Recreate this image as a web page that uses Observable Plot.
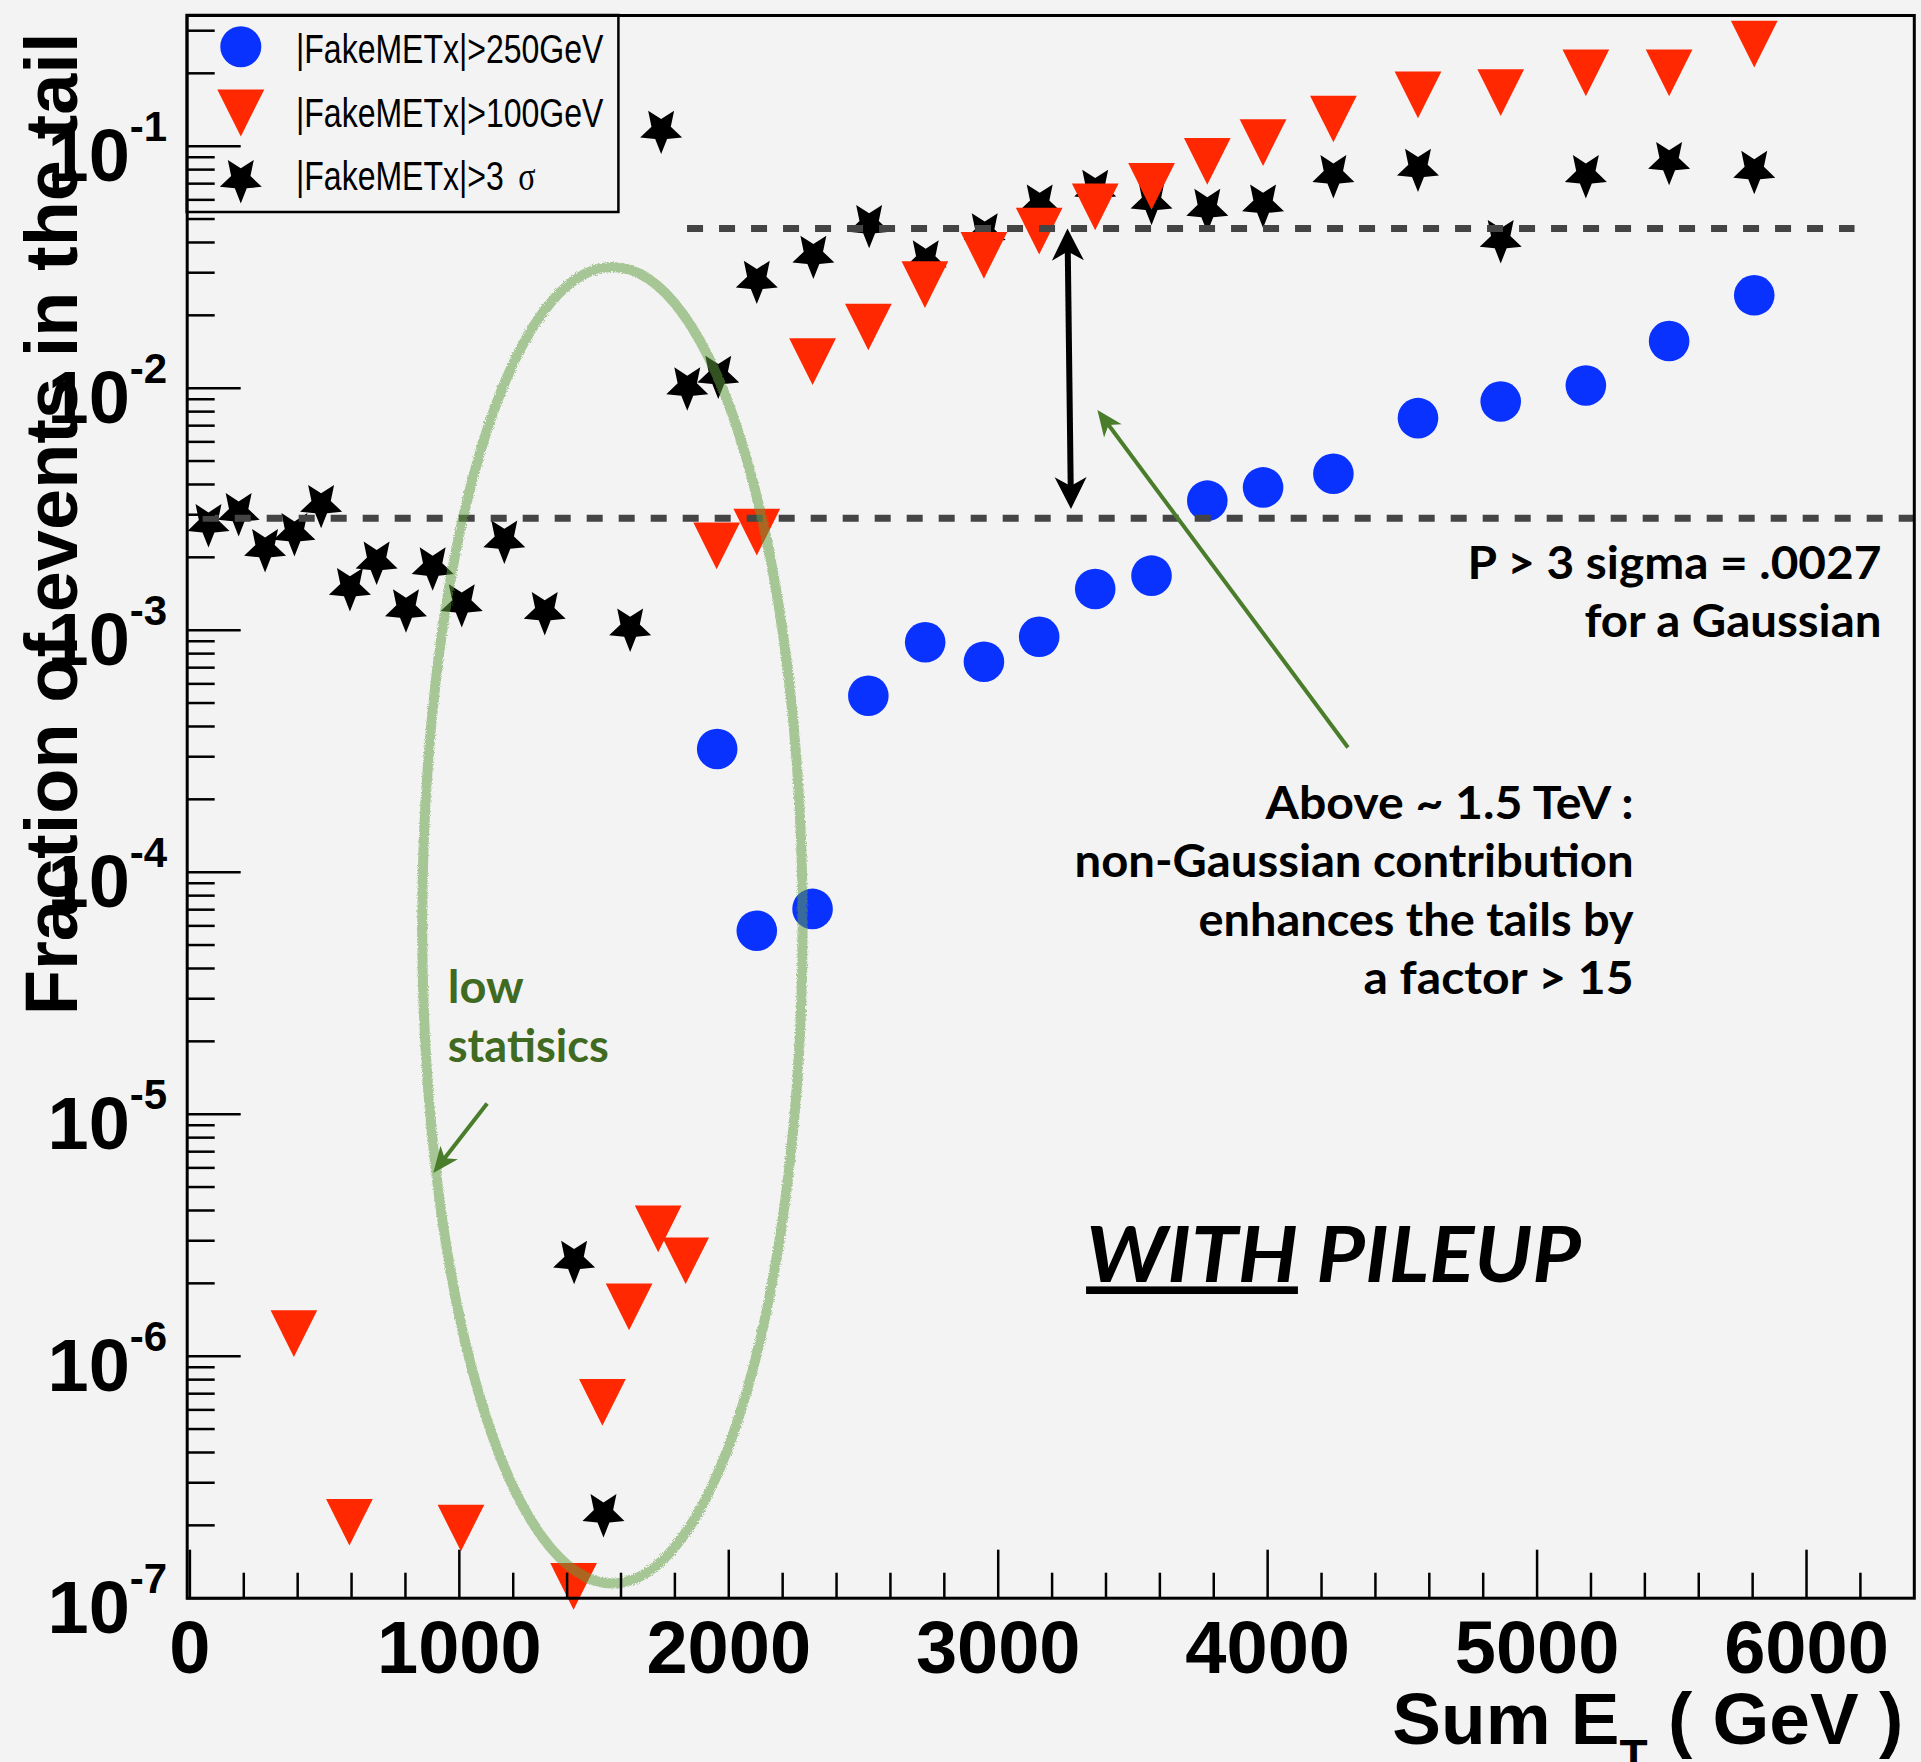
<!DOCTYPE html>
<html>
<head>
<meta charset="utf-8">
<script src="https://cdn.jsdelivr.net/npm/d3@7"></script>
<script src="https://cdn.jsdelivr.net/npm/@observablehq/plot@0.6"></script>
<style>
  html, body { margin: 0; padding: 0; background: #f3f3f3; }
  #chart svg { display: block; }
</style>
</head>
<body>
<div id="chart"></div>
<script>
// ---------------- data ----------------
// |FakeMETx| > 3 sigma  (black stars)
const sumET3sigma = [69, 181, 279, 388, 487, 594, 693, 802, 901, 1009, 1167, 1317, 1426, 1535, 1634,
  1749, 1846, 1961, 2104, 2314, 2521, 2731, 2950, 3154, 3360, 3569, 3776, 3983, 4244, 4558, 4865, 5181, 5490, 5806];
const frac3sigma = [0.00270, 0.00300, 0.00213, 0.00248, 0.00324, 0.00147, 0.00189, 0.00120, 0.00179, 0.00126,
  0.00231, 0.00117, 2.44e-6, 2.19e-7, 0.00100, 0.1140, 0.00992, 0.01108, 0.02737, 0.0347, 0.0465, 0.0332, 0.043,
  0.0565, 0.065, 0.058, 0.0542, 0.0565, 0.0747, 0.0794, 0.0403, 0.0747, 0.0847, 0.0778];
// |FakeMETx| > 100 GeV  (red triangles)
const sumET100 = [386, 592, 1006, 1424, 1531, 1630, 1738, 1840, 1955, 2104, 2311, 2518, 2728, 2947, 3152,
  3360, 3569, 3776, 3983, 4244, 4558, 4865, 5181, 5490, 5806];
const frac100 = [1.24e-6, 2.06e-7, 1.95e-7, 1.12e-7, 6.44e-7, 1.60e-6, 3.36e-6, 2.48e-6, 0.00223, 0.00254,
  0.01287, 0.0179, 0.0268, 0.0354, 0.0446, 0.0561, 0.0682, 0.0865, 0.1035, 0.1295, 0.163, 0.1665, 0.201, 0.201, 0.264];
// |FakeMETx| > 250 GeV  (blue circles)
const sumET250 = [1957, 2104, 2311, 2518, 2729, 2947, 3152, 3360, 3569, 3776, 3983, 4244, 4558, 4865, 5181, 5490, 5806];
const frac250 = [0.000323, 5.73e-5, 7.05e-5, 0.000536, 0.000891, 0.000741, 0.000939, 0.00148, 0.00168, 0.00343,
  0.00389, 0.00443, 0.00752, 0.00881, 0.01026, 0.01566, 0.0242];

const legendLabels = ["|FakeMETx|>250GeV", "|FakeMETx|>100GeV", "|FakeMETx|>3"];
const xMajorTicks = [0, 1000, 2000, 3000, 4000, 5000, 6000];
const xMinorTicks = [200, 400, 600, 800, 1200, 1400, 1600, 1800, 2200, 2400, 2600, 2800, 3200, 3400, 3600, 3800,
  4200, 4400, 4600, 4800, 5200, 5400, 5600, 5800, 6200];
const yMajorTicks = [1e-7, 1e-6, 1e-5, 1e-4, 1e-3, 1e-2, 1e-1];
const yMinorMultipliers = [2, 3, 4, 5, 6, 7, 8, 9];
const xDomain = [-10, 6400];
const yDomain = [1e-7, 0.3467];
const yMinorTicks = yMajorTicks.flatMap(d => yMinorMultipliers.map(m => m * d)).filter(v => v < yDomain[1]);

// reference lines (dashed)
const refLineY = [0.00290, 0.0457];
const refLineX1 = [-10, 1847];
const refLineX2 = [6400, 6180];

// annotation text
const noteLines = ["P > 3 sigma = .0027", "for a Gaussian", "Above ~ 1.5 TeV :", "non-Gaussian contribution",
  "enhances the tails by", "a factor > 15"];
const noteX = [6278, 6278, 5358, 5358, 5358, 5358];
const noteY = [0.001632, 0.000940, 1.659e-4, 9.52e-5, 5.46e-5, 3.14e-5];
const greenLines = ["low", "statisics"];
const greenX = [957, 957];
const greenY = [2.89e-5, 1.637e-5];
const pileupText = ["WITH PILEUP"];
const pileupX = [3326];
const pileupY = [2.018e-6];

// annotation shapes (data coordinates)
const ellipseX = [864, 2276];
const ellipseY = [1.145e-7, 0.0315];
const doubleArrow = {x1: 3259, y1: 0.0455, x2: 3272, y2: 0.00315};
const greenArrows = [
  {x1: 4300, y1: 3.26e-4, x2: 3370, y2: 0.00809},
  {x1: 1105, y1: 1.101e-5, x2: 905, y2: 5.69e-6}
];

// ---------------- styles ----------------
const BG = "#f3f3f3";
const BLUE = "#0a32ff";
const RED = "#ff2800";
const GREEN_TXT = "#3f6a1f";
const GREEN_ARROW = "#4a7d2b";
const AXIS_FONT = "'Liberation Sans', Arial, Helvetica, sans-serif";
const NOTE_FONT = "Lato, 'Open Sans', sans-serif";

// custom ROOT-like marker symbols
const triDown = {draw(ctx, size) {
  const r = Math.sqrt(size / Math.PI);
  ctx.moveTo(-r, -r); ctx.lineTo(r, -r); ctx.lineTo(0, r); ctx.closePath();
}};
const starDown = {draw(ctx, size) {
  const R = Math.sqrt(size / Math.PI), ri = 0.46 * R, sy = -0.0955 * R;
  for (let k = 0; k < 10; k++) {
    const a = Math.PI / 2 + k * Math.PI / 5;
    const rr = k % 2 ? ri : R;
    const px = Math.cos(a) * rr * 0.92, py = Math.sin(a) * rr + sy;
    if (k) ctx.lineTo(px, py); else ctx.moveTo(px, py);
  }
  ctx.closePath();
}};

const pts3 = sumET3sigma.map((x, i) => ({x, y: frac3sigma[i]}));
const pts100 = sumET100.map((x, i) => ({x, y: frac100[i]}));
const pts250 = sumET250.map((x, i) => ({x, y: frac250[i]}));
const refLines = refLineY.map((y, i) => ({y, x1: refLineX1[i], x2: refLineX2[i]}));
const notes = noteLines.map((text, i) => ({text, x: noteX[i], y: noteY[i]}));
const greens = greenLines.map((text, i) => ({text, x: greenX[i], y: greenY[i]}));
const pileup = pileupText.map((text, i) => ({text, x: pileupX[i], y: pileupY[i]}));

const NS = "http://www.w3.org/2000/svg";
function tspan(parent, txt, attrs = {}) {
  const t = document.createElementNS(NS, "tspan");
  for (const k in attrs) t.setAttribute(k, attrs[k]);
  t.textContent = txt;
  parent.appendChild(t);
  return t;
}

// legend (drawn inside the frame, top-left)
function legendMark() {
  const g = d3.create("svg:g");
  g.append("rect").attr("x", 186.7).attr("y", 15).attr("width", 431.7).attr("height", 197)
    .attr("fill", BG).attr("stroke", "black").attr("stroke-width", 2.5);
  const entries = [
    {sym: d3.symbolCircle, r: 20.5, fill: BLUE, cy: 46.7, base: 63.3},
    {sym: triDown, r: 23.5, fill: RED, cy: 113, base: 126.7},
    {sym: starDown, r: 24, fill: "black", cy: 181.7, base: 190}
  ];
  entries.forEach((e, i) => {
    const p = d3.path(); e.sym.draw(p, e.r * e.r * Math.PI);
    g.append("path").attr("d", p.toString()).attr("fill", e.fill)
      .attr("transform", `translate(240.8,${e.cy})`);
    const t = g.append("text").attr("text-anchor", "start")
      .attr("transform", `translate(296,${e.base}) scale(0.8,1)`)
      .attr("font-family", AXIS_FONT).attr("font-size", 40).attr("fill", "black").node();
    tspan(t, legendLabels[i]);
    if (i === 2) tspan(t, "σ", {dx: 18, "font-family": "'Liberation Serif', serif"});
  });
  return g.node();
}

// annotation shapes drawn with the plot's scales
function annotationMark(index, scales) {
  const X = typeof scales.x === "function" ? scales.x : (v) => scales.x.apply(v);
  const Y = typeof scales.y === "function" ? scales.y : (v) => scales.y.apply(v);
  const g = d3.create("svg:g");
  const defs = g.append("defs");
  const f = defs.append("filter").attr("id", "crayon").attr("x", "-5%").attr("y", "-5%").attr("width", "110%").attr("height", "110%");
  f.append("feTurbulence").attr("type", "fractalNoise").attr("baseFrequency", 0.9).attr("numOctaves", 2).attr("result", "noise");
  f.append("feDisplacementMap").attr("in", "SourceGraphic").attr("in2", "noise").attr("scale", 4);

  const ex1 = X(ellipseX[0]), ex2 = X(ellipseX[1]);
  const ey1 = Y(ellipseY[0]), ey2 = Y(ellipseY[1]);
  g.append("ellipse")
    .attr("cx", (ex1 + ex2) / 2).attr("cy", (ey1 + ey2) / 2)
    .attr("rx", Math.abs(ex2 - ex1) / 2).attr("ry", Math.abs(ey1 - ey2) / 2)
    .attr("fill", "none").attr("stroke", "#5f9e40").attr("stroke-opacity", 0.52)
    .attr("stroke-width", 10).attr("filter", "url(#crayon)");

  function head(px, py, ux, uy, len, wid, color) {
    const nx = -uy, ny = ux;
    const bx = px - ux * len, by = py - uy * len;
    const mx = px - ux * len * 0.72, my = py - uy * len * 0.72;
    g.append("path").attr("d",
      `M${px},${py}L${bx + nx * wid / 2},${by + ny * wid / 2}L${mx},${my}L${bx - nx * wid / 2},${by - ny * wid / 2}Z`)
      .attr("fill", color);
  }
  function arrow(a, color, width, len, wid, both) {
    const x1 = X(a.x1), y1 = Y(a.y1), x2 = X(a.x2), y2 = Y(a.y2);
    const dx = x2 - x1, dy = y2 - y1, L = Math.hypot(dx, dy), ux = dx / L, uy = dy / L;
    const sx1 = both ? x1 + ux * len * 0.7 : x1, sy1 = both ? y1 + uy * len * 0.7 : y1;
    g.append("line").attr("x1", sx1).attr("y1", sy1)
      .attr("x2", x2 - ux * len * 0.7).attr("y2", y2 - uy * len * 0.7)
      .attr("stroke", color).attr("stroke-width", width);
    head(x2, y2, ux, uy, len, wid, color);
    if (both) head(x1, y1, -ux, -uy, len, wid, color);
  }
  arrow(doubleArrow, "black", 6, 32, 32, true);
  greenArrows.forEach(a => arrow(a, GREEN_ARROW, 4, 26, 22, false));
  return g.node();
}

const plot = Plot.plot({
  width: 1921,
  height: 1762,
  marginLeft: 186.7,
  marginRight: 7.2,
  marginTop: 15,
  marginBottom: 164.3,
  style: {background: BG, color: "black", overflow: "visible"},
  x: {domain: xDomain, axis: null},
  y: {type: "log", domain: yDomain, axis: null},
  marks: [
    Plot.dot(pts3, {x: "x", y: "y", symbol: starDown, r: 24, fill: "black", stroke: "none"}),
    Plot.dot(pts100, {x: "x", y: "y", symbol: triDown, r: 23.35, fill: RED, stroke: "none"}),
    Plot.dot(pts250, {x: "x", y: "y", symbol: "circle", r: 20.3, fill: BLUE, stroke: "none"}),
    Plot.ruleY(refLines, {y: "y", x1: "x1", x2: "x2", stroke: "#444444", strokeWidth: 7,
      strokeDasharray: "16,16"}),
    annotationMark,
    legendMark,
    Plot.text(notes, {x: "x", y: "y", text: "text", textAnchor: "end", lineAnchor: "bottom",
      fontSize: 45, fontWeight: "bold", fontFamily: NOTE_FONT, fill: "black"}),
    Plot.text(greens, {x: "x", y: "y", text: "text", textAnchor: "start", lineAnchor: "bottom",
      fontSize: 45, fontWeight: "bold", fontFamily: NOTE_FONT, fill: GREEN_TXT}),
    Plot.text(pileup, {x: "x", y: "y", text: "text", textAnchor: "start", lineAnchor: "bottom",
      fontSize: 76, fontWeight: "bold", fontStyle: "italic", fontFamily: NOTE_FONT, fill: "black"}),
    // ROOT-style inward ticks
    Plot.axisY(yMajorTicks, {tickSize: 54, dx: 54, fill: "none", stroke: "black", strokeWidth: 2.5, label: null}),
    Plot.axisY(yMinorTicks, {tickSize: 28, dx: 28, fill: "none", stroke: "black", strokeWidth: 2.5, label: null}),
    Plot.axisX(xMajorTicks, {tickSize: 48, dy: -48, fill: "none", stroke: "black", strokeWidth: 2.5, label: null}),
    Plot.axisX(xMinorTicks, {tickSize: 25, dy: -25, fill: "none", stroke: "black", strokeWidth: 2.5, label: null}),
    // tick labels
    Plot.axisY(yMajorTicks, {tickSize: 0, tickPadding: 20, dy: 10.7, label: null,
      tickFormat: d => "10^" + Math.round(Math.log10(d)),
      fontSize: 74, fontWeight: "bold", fontFamily: AXIS_FONT, fill: "black"}),
    Plot.axisX(xMajorTicks, {tickSize: 0, tickPadding: 22, label: null, tickFormat: d => String(d),
      fontSize: 74, fontWeight: "bold", fontFamily: AXIS_FONT, fill: "black"}),
    // axis titles
    Plot.text(["Fraction of events in the tail"], {text: d => d, frameAnchor: "top-left", rotate: -90,
      textAnchor: "end", lineAnchor: "bottom", dx: -110, dy: 17,
      fontSize: 74, fontWeight: "bold", fontFamily: AXIS_FONT, fill: "black"}),
    Plot.text(["Sum E_T ( GeV )"], {text: d => d, frameAnchor: "bottom-right",
      textAnchor: "end", lineAnchor: "bottom", dx: -11.1, dy: 145.6,
      fontSize: 73, fontWeight: "bold", fontFamily: AXIS_FONT, fill: "black"}),
    Plot.frame({stroke: "black", strokeWidth: 3})
  ]
});

// ---------- text post-processing (superscripts, subscripts, fitted widths) ----------
const fitWidth = {
  "P > 3 sigma = .0027": 414, "for a Gaussian": 297, "Above ~ 1.5 TeV :": 368,
  "non-Gaussian contribution": 559, "enhances the tails by": 435, "a factor > 15": 270,
  "low": 76, "statisics": 161, "WITH PILEUP": 495
};
plot.querySelectorAll("text").forEach(t => {
  const s = t.textContent;
  const m = s.match(/^10\^(-?\d+)$/);
  if (m) {
    t.textContent = "";
    tspan(t, "10");
    tspan(t, m[1], {"font-size": 42, dy: -40});
    return;
  }
  if (s === "Sum E_T ( GeV )") {
    t.textContent = "";
    tspan(t, "Sum E");
    tspan(t, "T", {"font-size": 46, dy: 28});
    tspan(t, " ( GeV )", {dy: -28});
    return;
  }
  if (fitWidth[s] !== undefined) {
    t.setAttribute("textLength", fitWidth[s]);
    t.setAttribute("lengthAdjust", "spacingAndGlyphs");
    if (s === "WITH PILEUP") {
      t.textContent = "";
      tspan(t, "WITH", {"text-decoration": "underline"});
      tspan(t, " PILEUP");
    }
  }
});
// lower reference line: dash phase
const rules = plot.querySelectorAll("g[aria-label='rule'] line");
if (rules.length) rules[0].setAttribute("stroke-dashoffset", 16);

document.getElementById("chart").appendChild(plot);
</script>
</body>
</html>
